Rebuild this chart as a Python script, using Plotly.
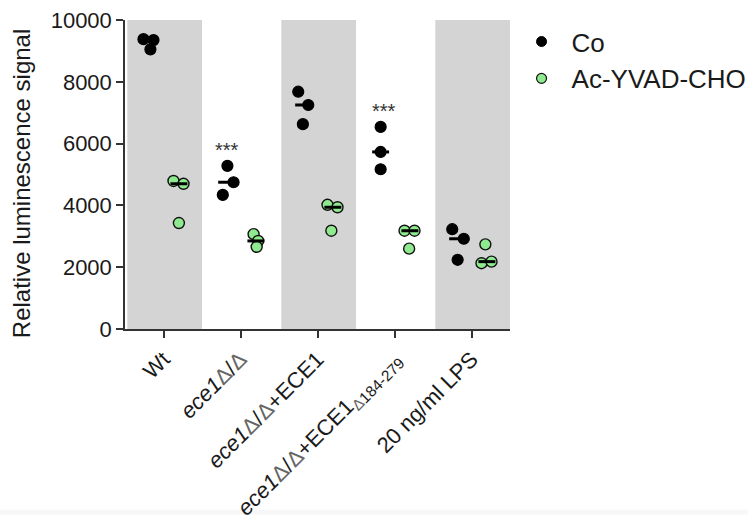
import numpy as np
import plotly.graph_objects as go

# ---- data ----
categories = [
    "Wt",
    "<i>ece1</i><span style='color:#666'>Δ</span>/<span style='color:#666'>Δ</span>",
    "<i>ece1</i><span style='color:#666'>Δ</span>/<span style='color:#666'>Δ</span>+ECE1",
    "<i>ece1</i><span style='color:#666'>Δ</span>/<span style='color:#666'>Δ</span>+ECE1<sub><span style='color:#666'>Δ</span>184-279</sub>",
    "20 ng/ml LPS",
]
co_values = [
    [9380, 9350, 9050],
    [5280, 4750, 4340],
    [7680, 7250, 6630],
    [6540, 5730, 5170],
    [3230, 2920, 2240],
]
ac_values = [
    [4790, 4700, 3430],
    [3070, 2850, 2660],
    [4020, 3940, 3180],
    [3180, 3180, 2600],
    [2740, 2130, 2180],
]
significance = ["", "***", "", "***", ""]
y_ticks = [0, 2000, 4000, 6000, 8000, 10000]
series_names = ["Co", "Ac-YVAD-CHO"]
y_title = "Relative luminescence signal"

# ---- layout helpers (positions, not data) ----
co_shift = -0.18
ac_shift = 0.2
co_jitter = [[-0.26, -0.13, -0.17], [-0.17, -0.09, -0.23], [-0.25, -0.12, -0.19], [-0.18, -0.18, -0.18], [-0.25, -0.1, -0.18]]
ac_jitter = [[0.13, 0.26, 0.2], [0.17, 0.23, 0.21], [0.13, 0.26, 0.18], [0.13, 0.26, 0.19], [0.18, 0.13, 0.26]]
star_shift = [0, -0.18, 0, -0.13, 0]
half_line = 0.11

co_color = "#000000"
ac_color = "#8FEA8F"
FONT = "Arial, Liberation Sans, sans-serif"

fig = go.Figure()

# gray bands
for i in range(0, len(categories), 2):
    fig.add_shape(type="rect", xref="x", yref="y", x0=i - 0.47, x1=i + 0.5, y0=0, y1=10000,
                  fillcolor="#D4D4D4", line_width=0, layer="below")

# footer strip
fig.add_shape(type="rect", xref="paper", yref="paper", x0=-1, x1=2, y0=-0.6, y1=-0.585,
              fillcolor="#F7F7F7", line_width=0, layer="below")

xs_co, ys_co, xs_ac, ys_ac = [], [], [], []
for i in range(len(categories)):
    for v, j in zip(co_values[i], co_jitter[i]):
        xs_co.append(i + j)
        ys_co.append(v)
    for v, j in zip(ac_values[i], ac_jitter[i]):
        xs_ac.append(i + j)
        ys_ac.append(v)

# median lines
mx, my = [], []
for i in range(len(categories)):
    for shift, vals in ((co_shift, co_values[i]), (ac_shift, ac_values[i])):
        m = float(np.median(vals))
        mx += [i + shift - half_line, i + shift + half_line, None]
        my += [m, m, None]

fig.add_trace(go.Scatter(x=xs_co, y=ys_co, mode="markers", showlegend=False,
                         marker=dict(size=11, color=co_color, line=dict(color="#000", width=1.2))))
fig.add_trace(go.Scatter(x=xs_ac, y=ys_ac, mode="markers", showlegend=False,
                         marker=dict(size=11, color=ac_color, line=dict(color="#111", width=1.4))))
fig.add_trace(go.Scatter(x=mx, y=my, mode="lines", showlegend=False,
                         line=dict(color="#000", width=3)))

# legend-only traces
fig.add_trace(go.Scatter(x=[None], y=[None], mode="markers", name=series_names[0], legendgroup="a",
                         marker=dict(size=10, color=co_color, line=dict(color="#000", width=1))))
fig.add_trace(go.Scatter(x=[None], y=[None], mode="markers", name=series_names[1], legendgroup="b",
                         marker=dict(size=10, color=ac_color, line=dict(color="#111", width=1.2))))

# significance stars
for i, s in enumerate(significance):
    if s:
        top = max(co_values[i])
        fig.add_annotation(x=i + star_shift[i], y=top, yshift=16, text=s, showarrow=False,
                           font=dict(size=20, color="#333", family=FONT), xref="x", yref="y")

# y-axis title
fig.add_annotation(text=y_title, xref="paper", yref="paper", x=-0.27, y=0.472,
                   xanchor="center", yanchor="middle", textangle=-90, showarrow=False,
                   font=dict(size=24, family=FONT, color="#1a1a1a"))

fig.update_layout(
    width=748, height=520,
    margin=dict(l=125, r=238, t=20, b=191, autoexpand=False),
    paper_bgcolor="white", plot_bgcolor="white",
    font=dict(family=FONT, color="#1a1a1a"),
    legend=dict(x=1.004, y=1.006, xanchor="left", yanchor="top", font=dict(size=26, family=FONT),
                itemwidth=50, tracegroupgap=0, bgcolor="rgba(0,0,0,0)"),
    xaxis=dict(range=[-0.5, 4.5], tickmode="array", tickvals=list(range(len(categories))),
               ticktext=categories, tickangle=-45, tickfont=dict(size=22, family=FONT),
               showline=True, linecolor="#333", linewidth=1.5, ticks="outside", ticklen=7,
               tickcolor="#333", tickwidth=1.5, showgrid=False, zeroline=False, automargin=False),
    yaxis=dict(range=[0, 10000], tickvals=y_ticks, tickformat="d", tickfont=dict(size=22, family=FONT),
               showline=True, linecolor="#333", linewidth=1.5, ticks="outside", ticklen=7,
               tickcolor="#333", tickwidth=1.5, showgrid=False, zeroline=False, automargin=False),
)

fig.write_html("out.html")
